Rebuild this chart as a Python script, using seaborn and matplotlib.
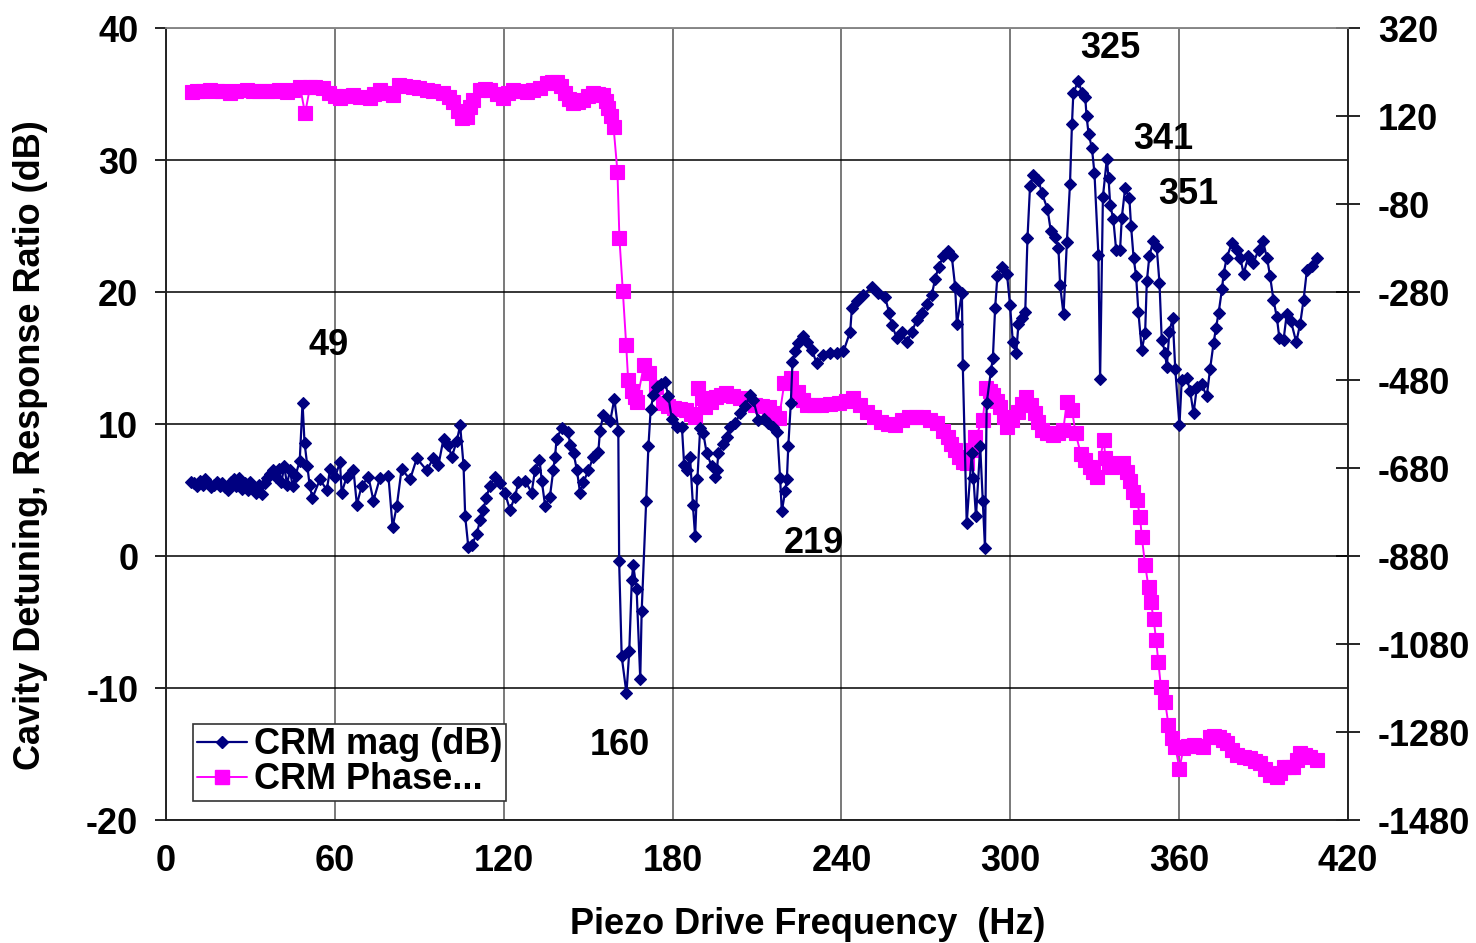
import pandas as pd
import seaborn as sns
import matplotlib.pyplot as plt
from matplotlib.lines import Line2D


# CRM magnitude (left axis, dB)
mag_freq = [
    9, 10, 11, 12, 13, 14, 15, 16, 17, 18, 19, 20, 21, 22, 23, 24, 25, 26, 27, 28,
    29, 30, 31, 32, 33, 34, 35, 36, 37, 38, 39, 40, 41, 42, 43, 44, 45, 46, 47.5, 48.5,
    49.2, 50.2, 51, 52,
    54.7, 57.1, 58.3, 60.1, 61.8, 62.4, 64.2, 66.6, 67.8, 69.5,
    71.9, 73.7, 76.0, 79.0, 80.5, 82.0, 83.7, 86.7, 89.1,
    92.6, 95.0, 96.8, 98.6, 100.3, 101.5, 103.3, 104.5, 105.7, 106.3,
    107.4, 108.6, 110.4, 111.6, 112.8, 113.7, 115.1, 116.9, 118.7, 120.4,
    122.2, 124.0, 125.2, 127.6, 129.9, 131.1, 132.7, 133.5, 134.7, 136.4,
    137.6, 138.2, 138.8, 140.6, 142.9, 143.6, 144.8, 146.0, 147.1, 148.3,
    150.1, 151.8, 153.6, 154.2, 155.4, 157.8, 159.3, 160.7,
    161.0, 161.9, 163.6, 164.6, 165.5, 166.0, 167.2, 168.5, 169.0, 170.6,
    171.4, 172.2, 173.2, 174.4, 175.8, 177.3, 178.5, 179.7, 181.5, 183.3,
    184.1, 185.0, 186.2, 187.2, 188.0, 188.8, 189.8, 190.9, 192.1, 193.9,
    195.1, 195.7, 196.3, 198.0, 199.3, 200.4, 202.2, 204.0, 205.8, 207.5,
    208.7, 210.5, 212.3, 214.0, 215.8, 217.2, 218.2, 218.8, 220.0, 220.6,
    221.1, 222.0, 222.6, 223.5, 224.7, 226.3, 227.7, 229.5, 231.2, 233.6,
    236.0, 238.3, 240.7,
    243.1, 243.7, 245.4, 247.8, 250.8, 253.1, 255.5, 257.0, 257.9, 259.7,
    261.4, 263.2, 265.0, 266.8, 268.5, 270.3, 272.1, 273.3, 274.5, 276.2,
    278.0, 279.2, 280.4, 281.0, 282.8, 283.1, 284.5, 286.3, 286.9, 287.8,
    289.3, 290.2, 291.0, 291.6, 293.1, 293.8, 294.6, 295.4, 297.0, 298.8,
    299.9, 300.9, 302.1, 302.9, 304.1, 305.3, 306.1, 307.0, 308.2, 310.0,
    311.2, 313.2, 314.4, 315.9, 317.1, 317.7, 318.9, 320.1, 321.2, 321.9,
    322.4, 324.2, 325.4, 326.6, 327.1, 327.8, 329.0, 329.9, 331.3, 331.9,
    332.9, 334.3, 334.9, 335.5, 336.6, 337.6, 339.0, 339.6, 340.8, 342.3,
    342.9, 343.8, 344.7, 345.5, 346.7, 347.9, 348.5, 349.4, 350.8, 352.0,
    353.0, 353.8, 355.0, 355.6, 356.5, 357.7, 358.6, 360.1, 360.9, 362.7,
    363.9, 365.1, 366.3, 368.0, 369.8, 371.0, 372.2, 373.1, 374.0, 375.2,
    375.8, 376.9, 378.7, 380.5, 381.7, 382.9, 384.6, 386.4, 388.2, 389.7,
    391.2, 392.3, 393.5, 394.7, 395.6, 397.1, 398.2, 399.7, 401.6, 403.0,
    404.2, 405.4, 407.1, 408.9,
]
mag_db = [
    5.6, 5.5, 5.3, 5.7, 5.4, 5.8, 5.5, 5.2, 5.4, 5.6, 5.3, 5.5, 5.2, 5.0, 5.6, 5.8, 5.3, 5.9, 5.1, 5.5,
    5.0, 5.6, 5.3, 4.8, 5.4, 4.7, 5.5, 5.9, 6.2, 6.5, 6.0, 6.6, 5.6, 6.8, 5.4, 6.5, 5.3, 6.1, 7.2, 11.6,
    8.6, 6.8, 5.4, 4.4,
    5.8, 5.0, 6.6, 6.0, 7.1, 4.8, 6.0, 6.5, 3.9, 5.3,
    6.0, 4.2, 5.9, 6.1, 2.2, 3.8, 6.6, 5.8, 7.4,
    6.5, 7.4, 6.9, 8.9, 8.4, 7.5, 8.7, 9.9, 6.9, 3.0,
    0.7, 0.8, 1.7, 2.7, 3.5, 4.4, 5.3, 6.0, 5.5, 4.8,
    3.5, 4.5, 5.6, 5.7, 4.8, 6.5, 7.3, 5.7, 3.8, 4.5,
    6.5, 7.5, 8.9, 9.7, 9.4, 8.4, 7.8, 6.5, 4.8, 5.6,
    6.5, 7.5, 7.9, 9.5, 10.7, 10.2, 11.9, 9.5,
    -0.4, -7.6, -10.4, -7.2, -1.8, -0.7, -2.5, -9.3, -4.2, 4.2,
    8.3, 11.1, 12.2, 12.8, 13.0, 13.2, 12.1, 10.4, 9.8, 9.8,
    6.9, 6.5, 7.5, 3.9, 1.5, 5.8, 9.7, 9.3, 7.8, 6.8,
    6.0, 6.5, 7.8, 8.5, 9.0, 9.8, 10.05, 10.8, 11.4, 12.2,
    11.8, 10.3, 10.4, 10.05, 9.8, 9.4, 5.9, 3.4, 4.9, 5.8,
    8.3, 11.6, 14.7, 15.5, 16.1, 16.7, 16.2, 15.6, 14.6, 15.2,
    15.4, 15.4, 15.5,
    17.0, 18.8, 19.3, 19.8, 20.4, 19.9, 19.6, 18.4, 17.5, 16.5,
    17.0, 16.2, 17.0, 17.9, 18.4, 19.1, 19.8, 21.0, 21.9, 22.7,
    23.1, 22.7, 20.4, 17.6, 19.9, 14.5, 2.5, 7.8, 5.9, 3.0,
    8.3, 4.2, 0.6, 11.6, 14.0, 15.0, 18.8, 21.2, 21.9, 21.4,
    19.0, 16.2, 15.4, 17.6, 18.0, 18.5, 24.1, 28.0, 28.9, 28.5,
    27.5, 26.3, 24.6, 24.2, 23.3, 20.5, 18.3, 23.8, 28.2, 32.7,
    35.1, 36.0, 35.1, 34.8, 33.3, 32.0, 30.9, 29.0, 22.8, 13.4,
    27.2, 30.1, 28.6, 26.6, 25.5, 23.2, 23.2, 25.6, 27.9, 27.1,
    25.0, 22.6, 21.2, 18.5, 15.6, 16.9, 20.8, 22.7, 23.9, 23.4,
    20.7, 16.4, 15.4, 14.3, 17.0, 18.0, 14.2, 9.9, 13.3, 13.5,
    12.5, 10.8, 12.8, 13.0, 12.1, 14.2, 16.1, 17.3, 18.4, 20.2,
    21.4, 22.6, 23.7, 23.2, 22.6, 21.4, 22.7, 22.2, 23.2, 23.9,
    22.6, 21.2, 19.4, 18.1, 16.5, 16.4, 18.3, 17.8, 16.2, 17.6,
    19.4, 21.7, 22.0, 22.6,
]

# CRM phase (right axis, degrees)
phase_freq = [
    9.1, 11, 13, 15.6, 18, 20, 22.7, 25, 28.7, 31,
    33, 35.8, 38, 40, 42.9, 45, 47.6, 49.4, 51.2, 53,
    55.9, 58, 60, 61.8, 64, 66.6, 69, 72.5, 74, 76,
    78, 80.8, 82.6, 85, 87.9, 90, 92.6, 95, 98.5, 100.5,
    102.1, 103.8, 105.1, 106.8, 108, 109.2, 111.6, 113.5, 115.1, 117.5,
    119.9, 121.5, 123.4, 126, 128.2, 130.5, 132.9, 135.3, 137, 138.8,
    140.3, 141.8, 143.2, 144.7, 146.5, 148.3, 150, 151.8, 153.5, 155.4,
    156.4, 157.2, 158.2, 159, 160.4, 161.1, 162.3, 163.5, 164.2, 165.5,
    166.7, 167.3, 169.8, 171.7, 174.2, 176.7, 178.5, 180.4, 182.5, 184.8,
    186.5, 187.9, 189.1, 190.3, 191.6, 193.5, 195.4, 197.2, 199.1, 201.6,
    204.1, 206.6, 209.1, 211.6, 214.1, 216, 217.8, 219.7, 222.2, 224.7,
    226.2, 227.8, 230.3, 232.8, 235.9, 239, 241.5, 244, 246.5, 249,
    251.5, 254, 256.5, 259, 261.5, 264, 266.5, 269, 271.5, 274,
    276, 277.7, 279, 280.2, 281.8, 283.3, 284.5, 286.4, 287.6, 290.2,
    291.4, 292.7, 293.9, 295.1, 296.4, 297.7, 298.9, 300.7, 302.6, 304.1,
    305.7, 307.2, 308.8, 310, 311.3, 313.2, 315, 316.9, 318.8, 320.1,
    321.9, 323.2, 325, 326.6, 328.2, 329.5, 330.7, 333.2, 333.8, 335,
    336.3, 338, 340, 341.3, 342.5, 343.7, 345, 346.1, 346.7, 347.9,
    349.1, 349.9, 350.9, 351.8, 352.6, 353.5, 355, 356.2, 357.4, 358.6,
    360.1, 361.5, 363.3, 365.1, 366.8, 368.6, 371, 372.5, 374, 375.5,
    377, 378.7, 380.5, 383, 385.3, 387, 388.8, 390.5, 392.3, 394.7,
    396, 397.1, 399, 400.6, 401.8, 403, 404.8, 406.5, 408.9,
]
phase_deg = [
    175, 177, 176, 179, 176, 177, 173, 176, 179, 177,
    176, 177, 176, 178, 175, 180, 187, 126, 187, 185,
    183, 172, 166, 160, 165, 168, 163, 160, 170, 179,
    172, 168, 190, 188, 187, 183, 179, 176, 172, 163,
    152, 132, 115, 118, 140, 156, 179, 181, 179, 170,
    160, 172, 179, 176, 175, 179, 183, 194, 197, 198,
    188, 172, 158, 149, 151, 156, 165, 172, 170, 168,
    155, 138, 120, 96, -7, -158, -277, -400, -480, -505,
    -518, -529, -446, -465, -495, -533, -540, -544, -546, -548,
    -558, -563, -499, -520, -541, -530, -518, -514, -510, -516,
    -522, -530, -537, -539, -541, -556, -567, -487, -476, -507,
    -525, -537, -537, -537, -535, -533, -527, -522, -537, -552,
    -565, -575, -580, -582, -572, -563, -563, -563, -570, -578,
    -595, -609, -625, -639, -655, -666, -669, -640, -609, -571,
    -499, -506, -514, -528, -541, -563, -586, -570, -552, -535,
    -518, -537, -556, -575, -594, -600, -605, -600, -594, -529,
    -548, -601, -647, -662, -677, -690, -700, -616, -658, -668,
    -677, -673, -669, -690, -710, -735, -753, -791, -836, -900,
    -950, -984, -1022, -1071, -1120, -1177, -1211, -1264, -1294, -1313,
    -1363, -1317, -1312, -1310, -1312, -1313, -1291, -1288, -1291, -1298,
    -1306, -1320, -1332, -1336, -1340, -1345, -1351, -1365, -1378, -1382,
    -1372, -1359, -1359, -1359, -1343, -1328, -1332, -1336, -1344,
]

# resonance labels
peak_labels = ["49", "160", "219", "325", "341", "351"]
peak_label_x = [50.6, 150.4, 219.6, 324.8, 343.5, 352.6]
peak_label_y = [15.2, -15.1, 0.2, 37.7, 30.8, 26.7]

x_ticks = list(range(0, 421, 60))
left_ticks = list(range(-20, 41, 10))
right_ticks = list(range(-1480, 321, 200))

MAG_COLOR = "#000080"
PHASE_COLOR = "#ff00ff"


def crm_plot(mag: pd.DataFrame, phase: pd.DataFrame):
    fig = plt.figure(figsize=(14.76, 9.43), dpi=100)
    ax = fig.add_axes([0.1125, 0.1304, 0.8008, 0.8399])
    ax2 = ax.twinx()

    # phase on the right axis
    sns.lineplot(data=phase, x="freq", y="deg", ax=ax2, color=PHASE_COLOR,
                 marker="s", markersize=10, markeredgecolor=PHASE_COLOR,
                 markeredgewidth=0.8, linewidth=1.4, sort=False, estimator=None, zorder=2)
    # magnitude drawn in left-axis units, on top of the phase squares
    sns.lineplot(data=mag, x="freq", y="db", ax=ax2, transform=ax.transData,
                 color=MAG_COLOR, marker="D", markersize=6.5, markeredgecolor=MAG_COLOR,
                 markeredgewidth=0.8, linewidth=1.6, sort=False, estimator=None, zorder=3)

    ax.set_xlim(0, 420)
    ax.set_ylim(-20, 40)
    ax2.set_ylim(-1480, 320)
    ax.set_xticks(x_ticks)
    ax.set_yticks(left_ticks)
    ax2.set_yticks(right_ticks)

    ax.grid(axis="y", color="black", linewidth=1.1)
    ax.grid(axis="x", color="#555555", linewidth=1.1)
    ax2.grid(False)

    ax.tick_params(axis="y", direction="out", length=8, width=1.2, labelsize=26, pad=12,
                   colors="black")
    ax.tick_params(axis="x", direction="out", length=8, width=1.2, labelsize=26, pad=9,
                   colors="black")
    ax2.tick_params(axis="y", direction="inout", length=17, width=1.2, labelsize=26, pad=13,
                    colors="black")

    for a in (ax, ax2):
        for side, sp in a.spines.items():
            sp.set_linewidth(1.2)
            sp.set_color("#888888" if side == "top" else "#222222")

    ax.set_xlabel("Piezo Drive Frequency  (Hz)", fontsize=26, fontweight="bold", color="black")
    ax.set_ylabel("Cavity Detuning, Response Ratio (dB)", fontsize=26, fontweight="bold",
                  color="black")
    ax.xaxis.set_label_coords(0.543, -0.11)
    ax.yaxis.set_label_coords(-0.0998, 0.4735)
    ax2.set_ylabel("")
    ax2.set_xlabel("")

    for txt, tx, ty in zip(peak_labels, peak_label_x, peak_label_y):
        ax.text(tx, ty, txt, fontsize=26, fontweight="bold", color="black",
                ha="left", va="baseline")

    handles = [
        Line2D([], [], color=MAG_COLOR, marker="D", markersize=6.5, linewidth=1.6),
        Line2D([], [], color=PHASE_COLOR, marker="s", markersize=10, linewidth=1.4),
    ]
    leg = ax2.legend(handles, ["CRM mag (dB)", "CRM Phase..."], loc="lower left",
                     bbox_to_anchor=(0.0228, 0.024), fontsize=26, frameon=True,
                     fancybox=False, edgecolor="#333333", framealpha=1,
                     borderpad=0.1, labelspacing=0.0, handlelength=1.4,
                     handletextpad=0.2, borderaxespad=0)
    leg.get_frame().set_linewidth(1.2)
    for t in leg.get_texts():
        t.set_color("black")
    return fig


if __name__ == "__main__":
    sns.set_style("white")
    plt.rcParams["font.family"] = ["Liberation Sans", "DejaVu Sans"]
    plt.rcParams["font.weight"] = "bold"
    plt.rcParams["axes.unicode_minus"] = False
    plt.rcParams["text.color"] = "black"
    mag = pd.DataFrame({"freq": mag_freq, "db": mag_db})
    phase = pd.DataFrame({"freq": phase_freq, "deg": phase_deg})
    fig = crm_plot(mag, phase)
    fig.savefig("out.png", dpi=100)
    plt.close(fig)
